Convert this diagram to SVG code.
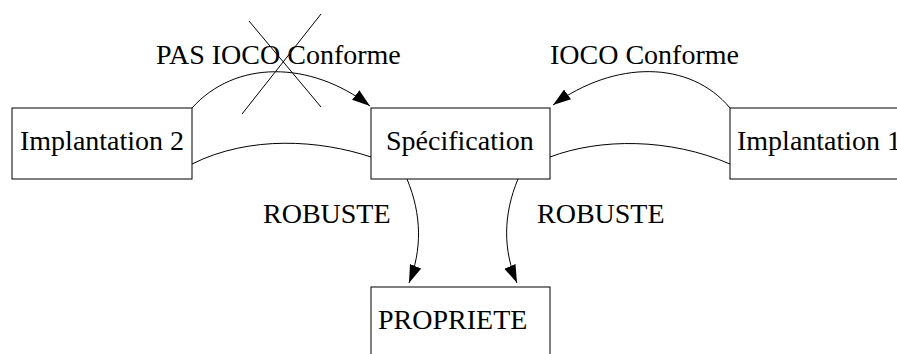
<svg xmlns="http://www.w3.org/2000/svg" width="897" height="354" viewBox="0 0 897 354">
<style>
.box{fill:#fff;stroke:#000;stroke-width:1}
.lbl{font-family:"Liberation Serif","Times New Roman",serif;font-size:28px;fill:#000}
.edge{fill:none;stroke:#000;stroke-width:1}
</style>
<defs>
<marker id="arr" markerUnits="userSpaceOnUse" markerWidth="20" markerHeight="12" refX="18" refY="6" orient="auto">
<path d="M0,0 L18,6 L0,12 Z" fill="#000"/>
</marker>
</defs>
<rect width="897" height="354" fill="#fff"/>
<g id="connectors">
<path class="edge" d="M192,108 C235,60 310,60 370,106" marker-end="url(#arr)"/>
<path class="edge" d="M730,108 C690,60 615,60 553,105" marker-end="url(#arr)"/>
<path class="edge" d="M371,157 C320,140 250,135 192,164"/>
<path class="edge" d="M550,157 C600,138 670,138 730,164"/>
<path class="edge" d="M407,179 C422,215 422,250 409,283" marker-end="url(#arr)"/>
<path class="edge" d="M518,179 C503,215 503,250 517,283" marker-end="url(#arr)"/>
<line class="edge" x1="249" y1="21" x2="321" y2="107"/>
<line class="edge" x1="321" y1="14" x2="242" y2="114"/>
<text class="lbl" x="156" y="64">PAS IOCO Conforme</text>
<text class="lbl" x="550" y="64">IOCO Conforme</text>
<text class="lbl" x="263" y="223">ROBUSTE</text>
<text class="lbl" x="537" y="223">ROBUSTE</text>
</g>
<g id="impl2">
<rect class="box" x="12" y="108" width="180" height="71"/>
<text class="lbl" x="20" y="150">Implantation 2</text>
</g>
<g id="spec">
<rect class="box" x="371" y="108" width="179" height="71"/>
<text class="lbl" x="386" y="150">Spécification</text>
</g>
<g id="impl1">
<rect class="box" x="730" y="108" width="190" height="71"/>
<text class="lbl" x="737" y="150">Implantation 1</text>
</g>
<g id="propriete">
<rect class="box" x="371" y="287" width="179" height="80"/>
<text class="lbl" x="378" y="329">PROPRIETE</text>
</g>
</svg>
